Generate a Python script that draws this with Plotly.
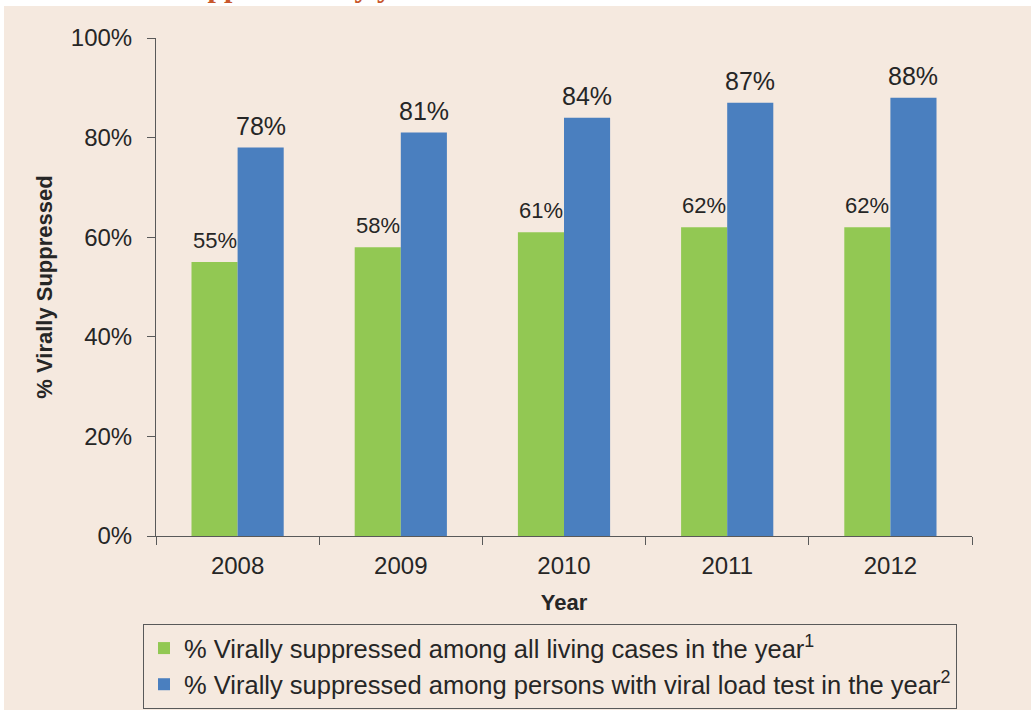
import plotly.graph_objects as go

years = ["2008", "2009", "2010", "2011", "2012"]
all_living = [55, 58, 61, 62, 62]
with_vl_test = [78, 81, 84, 87, 88]
y_ticks = [0, 20, 40, 60, 80, 100]
y_ticklabels = ["0%", "20%", "40%", "60%", "80%", "100%"]
name_green = "% Virally suppressed among all living cases in the year<sup>1</sup>"
name_blue = "% Virally suppressed among persons with viral load test in the year<sup>2</sup>"
top_title = "<b>Viral Suppression by year</b>"

BEIGE = "#F5E9DF"
GREEN = "#92C853"
BLUE = "#4A7FBF"
TXT = "#262626"
AX = "#595959"
FONT = "Liberation Sans, Arial, sans-serif"

fig = go.Figure()
fig.add_trace(go.Bar(x=years, y=all_living, name=name_green, marker_color=GREEN,
                     marker_line_width=0, legendgroup="a"))
fig.add_trace(go.Bar(x=years, y=with_vl_test, name=name_blue, marker_color=BLUE,
                     marker_line_width=0, legendgroup="b"))

annos = []
for i, v in enumerate(all_living):
    annos.append(dict(x=i, y=v, xref="x", yref="y", text=f"{v}%", showarrow=False,
                      xshift=-23, yshift=7, yanchor="bottom",
                      font=dict(size=22, color=TXT, family=FONT)))
for i, v in enumerate(with_vl_test):
    annos.append(dict(x=i, y=v, xref="x", yref="y", text=f"{v}%", showarrow=False,
                      xshift=23, yshift=6, yanchor="bottom",
                      font=dict(size=25, color=TXT, family=FONT)))
# cut-off title at top
annos.append(dict(x=(100 - 156) / 816, y=(536 - 9) / 498, xref="paper", yref="paper",
                  xanchor="left", yanchor="bottom", showarrow=False, borderpad=0,
                  yshift=5, text=top_title,
                  font=dict(size=30, color="#C8572B", family="Liberation Serif, serif")))
fig.update_layout(annotations=annos)

fig.update_layout(
    width=1031, height=710,
    margin=dict(l=156, r=59, t=38, b=174, autoexpand=False),
    paper_bgcolor=BEIGE, plot_bgcolor=BEIGE,
    barmode="group", bargap=0.435, bargroupgap=0,
    font=dict(family=FONT, color=TXT, size=20),
    showlegend=True,
    legend=dict(x=(143 - 156) / 816, y=(536 - 624) / 498, xanchor="left", yanchor="top",
                bgcolor=BEIGE, bordercolor=AX, borderwidth=1,
                font=dict(size=25.5, color=TXT, family=FONT),
                traceorder="grouped", tracegroupgap=0, itemwidth=30),
    xaxis=dict(type="category", range=[-0.5, 4.5], showline=True, linecolor=AX, linewidth=1,
               ticks="outside", tickson="boundaries", ticklen=8, tickcolor=AX,
               tickfont=dict(size=24, color=TXT), ticklabelstandoff=8,
               title=dict(text="<b>Year</b>", font=dict(size=22, color=TXT), standoff=16),
               showgrid=False),
    yaxis=dict(range=[0, 100], tickvals=y_ticks, ticktext=y_ticklabels,
               showline=True, linecolor=AX, linewidth=1, ticks="outside", ticklen=8,
               tickcolor=AX, tickfont=dict(size=24, color=TXT), showgrid=False,
               zeroline=False, ticklabelstandoff=10,
               title=dict(text="<b>% Virally Suppressed</b>", font=dict(size=22, color=TXT),
                          standoff=12)),
    shapes=[
        dict(type="rect", xref="paper", yref="paper", x0=-0.3, x1=1.2,
             y0=(536 - 6) / 498, y1=1.2, fillcolor="white", line_width=0, layer="below"),
        dict(type="rect", xref="paper", yref="paper", x0=-0.3, x1=(4 - 156) / 816,
             y0=-0.5, y1=1.2, fillcolor="white", line_width=0, layer="below"),
    ],
)

fig.write_html("out.html")
